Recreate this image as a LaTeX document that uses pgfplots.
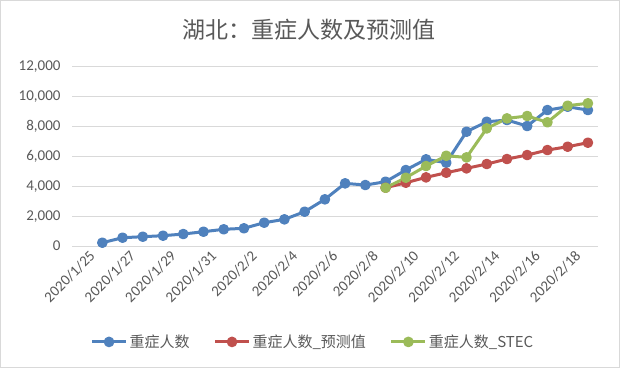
\documentclass[border=0pt]{standalone}
\usepackage{pgfplots}
\pgfplotsset{compat=1.18}
\usepackage{fontspec}
\setmainfont{Carlito}
\newfontfamily\cjk{Noto Sans CJK SC}
\definecolor{cblue}{HTML}{4F81BD}
\definecolor{cred}{HTML}{C0504D}
\definecolor{cgreen}{HTML}{9BBB59}
\definecolor{tgray}{HTML}{595959}
\definecolor{gridc}{HTML}{D9D9D9}
\begin{document}
\begin{tikzpicture}
\useasboundingbox (0,0) rectangle (620bp,368bp);
\fill[white] (0,0) rectangle (620bp,368bp);
\draw[gridc, line width=1bp] (0.5bp,0.5bp) rectangle (619.5bp,367.5bp);
\node[font=\cjk\fontsize{23bp}{26bp}\selectfont, text=tgray] at (308.5bp,338.5bp) {湖北：重症人数及预测值};
\begin{axis}[
 at={(72bp,122bp)}, anchor=south west,
 scale only axis, width=526bp, height=179.3bp,
 xmin=-0.5, xmax=25.5, ymin=0, ymax=12000,
 xtick={0,2,...,24},
 xticklabels={2020/1/25,2020/1/27,2020/1/29,2020/1/31,2020/2/2,2020/2/4,2020/2/6,2020/2/8,2020/2/10,2020/2/12,2020/2/14,2020/2/16,2020/2/18},
 ytick={0,2000,...,12000},
 scaled y ticks=false,
 /pgf/number format/.cd, 1000 sep={,}, assume math mode=true, /pgfplots/.cd,
 axis line style={draw=none},
 ymajorgrids, grid style={gridc, line width=1bp},
 major tick length=0pt,
 tick label style={font=\fontsize{15bp}{18bp}\selectfont, text=tgray},
 xticklabel style={rotate=45, anchor=north east, inner sep=1bp, yshift=-6bp, xshift=3bp},
 yticklabel style={xshift=-8bp},
 legend style={at={(0.458,-0.535)}, anchor=center, legend columns=3, draw=none, fill=none,
   font=\cjk\fontsize{15bp}{18bp}\selectfont, text=tgray,
   /tikz/every even column/.append style={column sep=22bp}},
 legend cell align=left,
 legend image code/.code={\draw[#1, mark repeat=2, mark phase=2] plot coordinates {(0bp,0bp) (17bp,0bp) (34bp,0bp)};},
 every axis plot/.append style={line width=3bp, line join=round, mark=*, mark size=3.8bp},
]
\addplot[cblue, mark options={solid, fill=cblue, draw=cblue}] coordinates {
(1,220) (2,555) (3,622) (4,690) (5,800) (6,957) (7,1117) (8,1184) (9,1560) (10,1784)
(11,2295) (12,3124) (13,4193) (14,4080) (15,4303) (16,5084) (17,5800) (18,5573)
(19,7647) (20,8316) (21,8429) (22,8028) (23,9098) (24,9319) (25,9098)};
\addlegendentry{重症人数}
\addplot[cred, mark options={solid, fill=cred, draw=cred}] coordinates {
(15,3900) (16,4235) (17,4593) (18,4905) (19,5197) (20,5486) (21,5820) (22,6088)
(23,6422) (24,6645) (25,6913)};
\addlegendentry{重症人数\_预测值}
\addplot[cgreen, mark options={solid, fill=cgreen, draw=cgreen}] coordinates {
(15,3900) (16,4570) (17,5350) (18,6040) (19,5930) (20,7870) (21,8540) (22,8700)
(23,8280) (24,9390) (25,9550)};
\addlegendentry{重症人数\_STEC}
\end{axis}
\end{tikzpicture}
\end{document}
